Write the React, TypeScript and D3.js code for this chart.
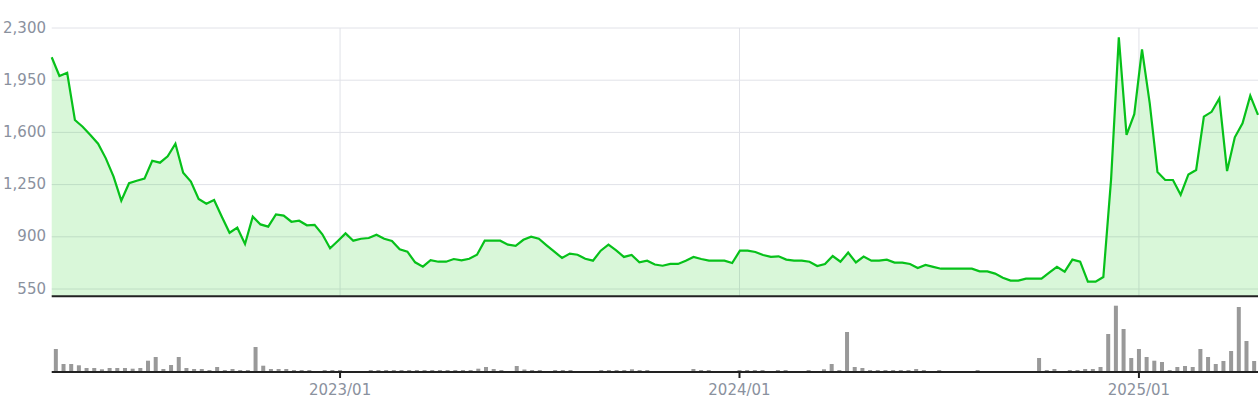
import React from "react";
import * as d3 from "d3";

// Weekly closing prices (first week: Friday 2022-04-22)
const START_WEEK = "2022-04-22";
const closes: number[] = [
  2104, 1978, 2000, 1683, 1638, 1583, 1524, 1426, 1303, 1142,
  1259, 1276, 1290, 1410, 1397, 1440, 1524, 1330, 1270, 1153,
  1122, 1147, 1035, 927, 961, 852, 1035, 983, 968, 1050,
  1042, 1001, 1008, 977, 980, 917, 823, 872, 923, 874,
  887, 892, 914, 887, 872, 816, 800, 729, 700, 744,
  733, 733, 751, 742, 753, 780, 874, 874, 874, 847,
  840, 880, 901, 887, 843, 800, 758, 787, 780, 753,
  740, 807, 847, 809, 765, 778, 729, 740, 714, 706,
  718, 718, 740, 765, 751, 740, 740, 740, 724, 807,
  807, 798, 778, 765, 769, 747, 740, 740, 733, 704,
  718, 771, 733, 794, 728, 767, 740, 740, 747, 727,
  727, 718, 691, 711, 698, 686, 686, 686, 686, 686,
  668, 668, 653, 626, 606, 606, 619, 619, 619, 659,
  698, 666, 747, 733, 599, 599, 630, 1285, 2237, 1583,
  1722, 2157, 1795, 1334, 1281, 1281, 1182, 1318, 1348, 1706,
  1738, 1827, 1341, 1567, 1661, 1846, 1717,
];

// Weekly volume (relative units)
const volumes: number[] = [
  220, 70, 70, 57, 30, 30, 17, 30, 30, 30,
  23, 30, 103, 140, 20, 60, 140, 30, 20, 20,
  10, 40, 10, 20, 10, 10, 240, 53, 20, 20,
  20, 10, 10, 10, 0, 10, 10, 10, 0, 0,
  0, 10, 10, 10, 10, 10, 10, 10, 10, 10,
  10, 10, 10, 10, 10, 23, 40, 20, 10, 0,
  50, 15, 10, 10, 0, 10, 10, 10, 0, 0,
  0, 10, 10, 10, 10, 17, 10, 10, 0, 0,
  0, 0, 0, 20, 10, 10, 0, 0, 0, 10,
  10, 10, 10, 0, 10, 10, 0, 0, 10, 0,
  17, 70, 10, 390, 40, 30, 10, 10, 10, 10,
  10, 10, 20, 10, 0, 10, 0, 0, 0, 0,
  10, 0, 0, 0, 0, 0, 0, 0, 130, 10,
  20, 0, 10, 10, 20, 20, 40, 370, 653, 420,
  130, 220, 140, 103, 90, 10, 40, 50, 40, 220,
  140, 70, 100, 200, 640, 300, 100,
];

const priceTicks: number[] = [550, 900, 1250, 1600, 1950, 2300];

const W = 1259;
const H = 400;
const LEFT = 51.7;
const RIGHT = 1258;
const PRICE_TOP = 28;
const PRICE_550 = 289;
const PRICE_BOTTOM = 296.3;
const VOL_BASE = 371;
const VOL_TOP = 301;
const VOL_AXIS = 372;

const LABEL_COLOR = "#8a919e";
const GRID_COLOR = "#e1e2e8";
const FONT = "Verdana, 'DejaVu Sans', sans-serif";

export default function App() {
  const n = closes.length;
  const start = new Date(START_WEEK + "T00:00:00");
  const dates = d3.range(n).map((i) => d3.timeDay.offset(start, 7 * i));
  const idx = d3.range(n);

  const xLine = d3.scalePoint<number>().domain(idx).range([LEFT, RIGHT]);
  const xBand = d3.scalePoint<number>().domain(idx).range([52, RIGHT]).padding(0.5);

  const y = d3.scaleLinear().domain([550, 2300]).range([PRICE_550, PRICE_TOP]);
  const yVol = d3.scaleLinear().domain([0, 700]).range([VOL_BASE, VOL_TOP]);

  const line = d3
    .line<number>()
    .x((_, i) => xLine(i)!)
    .y((d) => y(d));
  const area = d3
    .area<number>()
    .x((_, i) => xLine(i)!)
    .y0(PRICE_BOTTOM)
    .y1((d) => y(d));

  // first week of each year -> axis tick
  const yearTicks = idx.filter(
    (i) => i > 0 && dates[i].getFullYear() !== dates[i - 1].getFullYear()
  );
  const fmt = d3.timeFormat("%Y/%m");
  const fmtNum = d3.format(",");

  return (
    <svg
      width={W}
      height={H}
      style={{ position: "absolute", left: 0, top: 0, background: "#fff" }}
      fontFamily={FONT}
    >
      {/* horizontal grid */}
      {priceTicks.map((t) => (
        <line
          key={"g" + t}
          x1={LEFT}
          x2={RIGHT}
          y1={y(t)}
          y2={y(t)}
          stroke={GRID_COLOR}
          strokeWidth={1}
        />
      ))}
      {/* vertical grid */}
      {yearTicks.map((i) => (
        <line
          key={"v" + i}
          x1={xBand(i)!}
          x2={xBand(i)!}
          y1={PRICE_TOP}
          y2={PRICE_BOTTOM}
          stroke={GRID_COLOR}
          strokeWidth={1}
        />
      ))}
      <path d={area(closes)!} fill="rgb(0,200,0)" fillOpacity={0.15} />
      <path
        d={line(closes)!}
        fill="none"
        stroke="#07c11a"
        strokeWidth={2.2}
        strokeLinejoin="miter"
      />
      <line x1={LEFT} x2={RIGHT} y1={PRICE_BOTTOM} y2={PRICE_BOTTOM} stroke="#222" strokeWidth={2} />

      {priceTicks.map((t) => (
        <text
          key={"t" + t}
          x={46}
          y={y(t)}
          textAnchor="end"
          dominantBaseline="middle"
          fontSize={15}
          fill={LABEL_COLOR}
        >
          {fmtNum(t)}
        </text>
      ))}

      {/* volume bars */}
      {volumes.map((v, i) =>
        v > 0 ? (
          <rect
            key={"b" + i}
            x={xBand(i)! - 2}
            y={yVol(v)}
            width={4}
            height={VOL_BASE - yVol(v)}
            fill="#999999"
          />
        ) : null
      )}
      <line x1={LEFT} x2={RIGHT} y1={VOL_AXIS} y2={VOL_AXIS} stroke="#222" strokeWidth={2} />
      {yearTicks.map((i) => (
        <g key={"x" + i}>
          <line
            x1={xBand(i)!}
            x2={xBand(i)!}
            y1={VOL_AXIS}
            y2={VOL_AXIS + 6}
            stroke="#222"
            strokeWidth={2}
          />
          <text
            x={xBand(i)!}
            y={395}
            textAnchor="middle"
            fontSize={15}
            fill={LABEL_COLOR}
          >
            {fmt(dates[i])}
          </text>
        </g>
      ))}
    </svg>
  );
}
